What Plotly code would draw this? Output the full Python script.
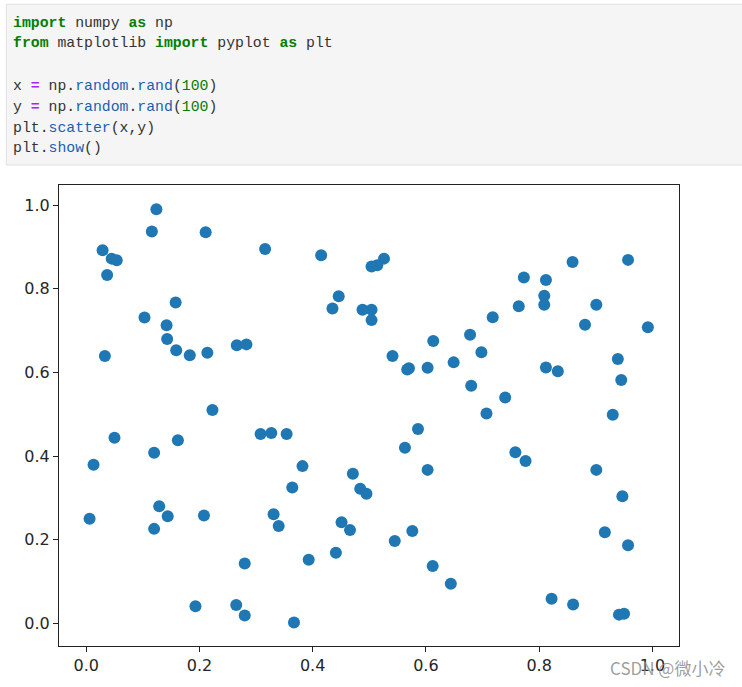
import plotly.graph_objects as go

# ---- data ----
x_values = [0.029, 0.045, 0.054, 0.037, 0.033, 0.124, 0.116, 0.211, 0.158, 0.103,
            0.142, 0.143, 0.159, 0.183, 0.214, 0.266, 0.283, 0.223, 0.316, 0.415,
            0.526, 0.514, 0.504, 0.446, 0.435, 0.488, 0.504, 0.504, 0.541, 0.570,
            0.603, 0.613, 0.649, 0.859, 0.957, 0.773, 0.812, 0.809, 0.809, 0.764,
            0.901, 0.718, 0.881, 0.992, 0.678, 0.698, 0.812, 0.833, 0.939, 0.945,
            0.680, 0.740, 0.707, 0.930, 0.050, 0.013, 0.120, 0.162, 0.006, 0.129,
            0.144, 0.120, 0.208, 0.280, 0.193, 0.265, 0.280, 0.308, 0.327, 0.354,
            0.382, 0.364, 0.331, 0.340, 0.393, 0.367, 0.586, 0.563, 0.603, 0.471,
            0.484, 0.495, 0.451, 0.466, 0.441, 0.545, 0.576, 0.612, 0.644, 0.758,
            0.776, 0.901, 0.947, 0.916, 0.957, 0.822, 0.860, 0.941, 0.950, 0.567]
y_values = [0.892, 0.872, 0.868, 0.833, 0.639, 0.990, 0.937, 0.935, 0.767, 0.731,
            0.713, 0.680, 0.653, 0.641, 0.647, 0.665, 0.667, 0.510, 0.895, 0.880,
            0.872, 0.856, 0.853, 0.782, 0.753, 0.750, 0.750, 0.725, 0.639, 0.610,
            0.611, 0.675, 0.624, 0.864, 0.869, 0.827, 0.821, 0.783, 0.762, 0.758,
            0.762, 0.732, 0.714, 0.708, 0.690, 0.648, 0.612, 0.603, 0.632, 0.582,
            0.568, 0.540, 0.502, 0.499, 0.444, 0.379, 0.408, 0.438, 0.250, 0.280,
            0.256, 0.226, 0.258, 0.143, 0.041, 0.044, 0.019, 0.453, 0.455, 0.453,
            0.376, 0.325, 0.261, 0.233, 0.152, 0.002, 0.465, 0.420, 0.367, 0.358,
            0.322, 0.310, 0.242, 0.223, 0.169, 0.197, 0.221, 0.137, 0.095, 0.409,
            0.388, 0.367, 0.304, 0.218, 0.187, 0.059, 0.045, 0.021, 0.023, 0.607]
tick_values = [0.0, 0.2, 0.4, 0.6, 0.8, 1.0]
tick_labels = ["0.0", "0.2", "0.4", "0.6", "0.8", "1.0"]

# ---- layout geometry (pixels) ----
FIG_W, FIG_H = 742, 687
ML, MR, MT, MB = 59, 63, 185, 41
PW = FIG_W - ML - MR
PH = FIG_H - MT - MB


def px_x(px):
    return (px - ML) / PW


def px_y(py):
    return (FIG_H - MB - py) / PH


KW = "#008000"
OP = "#AA22FF"
FN = "#1a5fb4"
NUM = "#008000"
TXT = "#333333"


def kw(s):
    return f'<b><span style="color:{KW}">{s}</span></b>'


def op(s):
    return f'<b><span style="color:{OP}">{s}</span></b>'


def fn(s):
    return f'<span style="color:{FN}">{s}</span>'


def num(s):
    return f'<span style="color:{NUM}">{s}</span>'


code_lines = [
    (22.7, f"{kw('import')} numpy {kw('as')} np"),
    (43.3, f"{kw('from')} matplotlib {kw('import')} pyplot {kw('as')} plt"),
    (86.0, f"x {op('=')} np.{fn('random')}.{fn('rand')}({num('100')})"),
    (106.7, f"y {op('=')} np.{fn('random')}.{fn('rand')}({num('100')})"),
    (127.7, f"plt.{fn('scatter')}(x,y)"),
    (148.3, f"plt.{fn('show')}()"),
]

fig = go.Figure()
fig.add_trace(go.Scatter(
    x=x_values, y=y_values, mode="markers",
    marker=dict(size=12, color="#1f77b4", line=dict(width=0)),
    showlegend=False, hoverinfo="skip",
))

shapes = [dict(
    type="rect", xref="paper", yref="paper",
    x0=px_x(6.3), x1=px_x(745), y0=px_y(165), y1=px_y(4.3),
    fillcolor="#f5f5f5", line=dict(color="#e0e0e0", width=1), layer="below",
)]

annotations = []
for ypos, txt in code_lines:
    annotations.append(dict(
        x=px_x(10.5), y=px_y(ypos), xref="paper", yref="paper",
        xanchor="left", yanchor="middle", showarrow=False, text=txt,
        font=dict(family="Liberation Mono, DejaVu Sans Mono, monospace", size=14.8, color=TXT),
    ))

annotations.append(dict(
    x=px_x(727), y=px_y(667), xref="paper", yref="paper",
    xanchor="right", yanchor="middle", showarrow=False, text="CSDN @微小冷",
    font=dict(family="Noto Sans CJK SC, Noto Sans", size=17, color="rgba(140,140,140,0.85)"),
))

axis_common = dict(
    showgrid=False, zeroline=False, showline=True, mirror=True,
    linecolor="#222222", linewidth=1.2,
    ticks="outside", ticklen=5, tickwidth=1.1, tickcolor="#222222",
    tickvals=tick_values, ticktext=tick_labels,
    tickfont=dict(family="DejaVu Sans", size=16, color="#262626"),
)

fig.update_layout(
    width=FIG_W, height=FIG_H,
    margin=dict(l=ML, r=MR, t=MT, b=MB, pad=0),
    paper_bgcolor="white", plot_bgcolor="white",
    xaxis=dict(range=[-0.048, 1.047], **axis_common),
    yaxis=dict(range=[-0.054, 1.048], **axis_common),
    shapes=shapes, annotations=annotations,
)

fig.write_html(
    "out.html",
    config={"displayModeBar": False},
    post_script="document.body.style.margin='0';document.body.style.overflow='hidden';",
)
